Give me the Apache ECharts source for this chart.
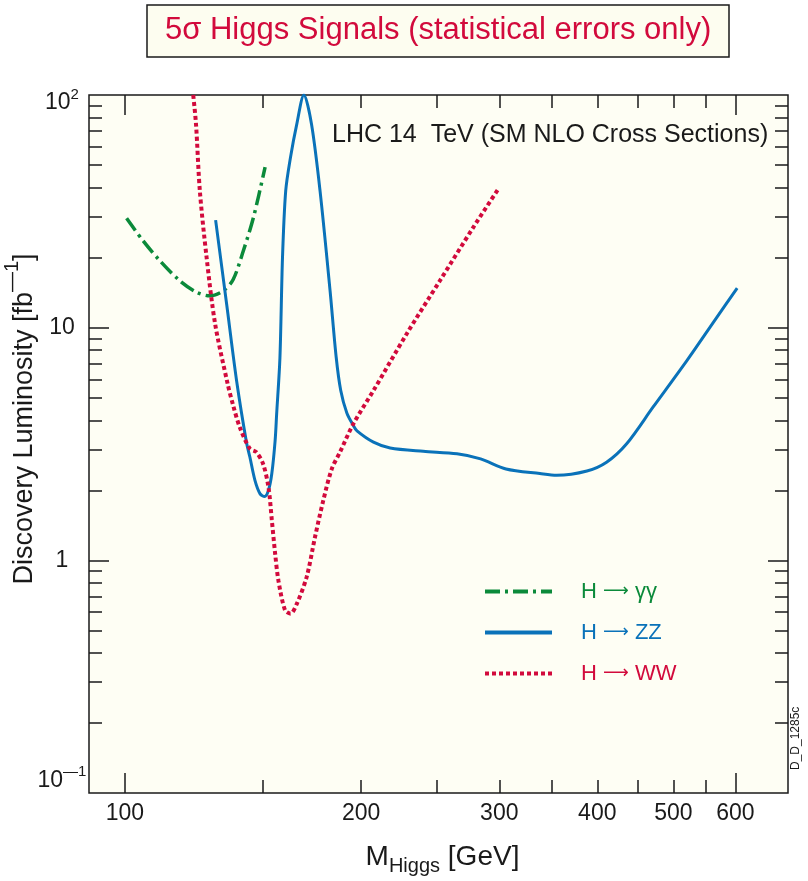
<!DOCTYPE html>
<html>
<head>
<meta charset="utf-8">
<script src="https://cdn.jsdelivr.net/npm/echarts@6/dist/echarts.min.js"></script>
<style>
  html, body { margin: 0; padding: 0; background: #fff; }
  #chart { width: 808px; height: 881px; }
</style>
</head>
<body>
<div id="chart"></div>
<script>
// H -> gamma gamma
const ggMass = [100.5, 105.5, 110.8, 117.5, 123.4, 128.3, 133.5, 137.4, 141.5, 145.8, 150.9]
const ggLumi = [29.5, 23.6, 19.4, 15.9, 14.2, 13.7, 14.4, 16.1, 21.3, 29.7, 49]

// H -> ZZ
const zzMass = [130.5, 134.8, 138.8, 142.9, 144.3, 146.5, 148.7, 150.7, 152.4, 153.9, 155.4, 156.1, 157.6,
  158.8, 160.3, 162.5, 165.6, 169.1, 172.9, 177.3, 182.6, 185.9, 188.4, 191.8, 195.5, 197.6, 207.4, 217.8,
  240, 265, 284, 306, 338, 355, 388, 411, 436, 471, 520, 564, 603]
const zzLumi = [29, 12.6, 5.9, 3.2, 2.78, 2.2, 1.93, 1.88, 2.0, 2.36, 3.27, 4.26, 7.4,
  20, 38.7, 53.5, 75, 100, 75, 38.7, 14.4, 7.46, 5.37, 4.3, 3.8, 3.6, 3.22, 3.04,
  2.94, 2.87, 2.73, 2.47, 2.36, 2.32, 2.42, 2.64, 3.17, 4.55, 7.2, 10.7, 14.8]

// H -> WW
const wwMass = [122.2, 123.2, 124.6, 127.1, 130.3, 135.2, 137.4, 140.1, 144.3, 147, 150, 152.4, 153.9, 155.4,
  156.9, 160, 162.6, 165.6, 170.5, 174.7, 179, 183.5, 188, 195.5, 207.4, 228.6, 252, 278, 298.5]
const wwLumi = [100, 75, 38.7, 20, 10.4, 5.73, 4.63, 3.73, 3.02, 2.92, 2.6, 2.06, 1.49, 1.07,
  0.82, 0.61, 0.59, 0.65, 0.85, 1.26, 1.81, 2.47, 2.92, 3.86, 5.37, 9.4, 15.9, 27, 39]

const seriesNames = ['H \u2192 \u03b3\u03b3', 'H \u2192 ZZ', 'H \u2192 WW']

// axis ticks / labels
const xLabelValues = [100, 200, 300, 400, 500, 600]
const xMinorTicks = [150, 200, 250, 300, 350, 400, 450, 500, 550]
const xMajorTicks = [100, 600]
const yLabelValues = [0.1, 1, 10, 100]
const yLabelText = ['{bs|\u20141}', '{n|1}', '{n|10}', '{tn|10}{ts|2}']
const yMinorTicks = [0.2, 0.3, 0.4, 0.5, 0.6, 0.7, 0.8, 0.9, 2, 3, 4, 5, 6, 7, 8, 9, 20, 30, 40, 50, 60, 70, 80, 90]
const yMajorTicks = [1, 10]

const FONT = 'Liberation Sans'
const INK = '#1a1a1a'
const RED = '#d20a3c'
const BLUE = '#0a72b9'
const GREEN = '#0b8a3a'

function pairs (xs, ys) {
  return xs.map((x, i) => [x, ys[i]])
}

function xAxisOf (position, ticks, len, withLabels) {
  return {
    type: 'log',
    position: position,
    min: 90,
    max: 700,
    axisLine: { show: false },
    splitLine: { show: false },
    axisTick: {
      inside: true,
      length: len,
      customValues: ticks,
      lineStyle: { color: INK, width: 1.5 }
    },
    axisLabel: withLabels ? {
      show: true,
      customValues: xLabelValues,
      formatter: v => String(Math.round(v)),
      fontFamily: FONT,
      fontSize: 23,
      color: INK,
      margin: 9
    } : { show: false }
  }
}

function yAxisOf (position, ticks, len, withLabels) {
  return {
    type: 'log',
    position: position,
    min: 0.1,
    max: 100,
    axisLine: { show: false },
    splitLine: { show: false },
    axisTick: {
      inside: true,
      length: len,
      customValues: ticks,
      lineStyle: { color: INK, width: 1.5 }
    },
    axisLabel: withLabels ? {
      show: true,
      customValues: yLabelValues,
      formatter: v => {
        const i = Math.round(Math.log10(v)) + 1
        return i === 0 ? '{bn|10}' + yLabelText[0] : yLabelText[i]
      },
      align: 'center',
      margin: 27,
      fontFamily: FONT,
      color: INK,
      rich: {
        n: { fontSize: 23, fontFamily: FONT, color: INK },
        tn: { fontSize: 23, fontFamily: FONT, color: INK, verticalAlign: 'top', padding: [16, 0, 0, 0] },
        ts: { fontSize: 15, fontFamily: FONT, color: INK, verticalAlign: 'top', padding: [12, 0, 0, 0] },
        bn: { fontSize: 23, fontFamily: FONT, color: INK, verticalAlign: 'top', padding: [5, 0, 29, 0] },
        bs: { fontSize: 15, fontFamily: FONT, color: INK, verticalAlign: 'top', padding: [0, 0, 0, 0] }
      }
    } : { show: false }
  }
}

const chart = echarts.init(document.getElementById('chart'))

const xAxes = [
  xAxisOf('bottom', xMinorTicks, 13, true),
  xAxisOf('bottom', xMajorTicks, 20, false),
  xAxisOf('top', xMinorTicks, 13, false),
  xAxisOf('top', xMajorTicks, 20, false)
]
xAxes[1].name = '{m|M}{s|Higgs}{m| [GeV]}'
xAxes[1].nameLocation = 'middle'
xAxes[1].nameGap = 50
xAxes[1].nameTextStyle = {
  padding: [0, 0, 0, 8],
  rich: {
    m: { fontSize: 28, fontFamily: FONT, color: INK, verticalAlign: 'top' },
    s: { fontSize: 20, fontFamily: FONT, color: INK, verticalAlign: 'top', padding: [13, 0, 0, 0] }
  }
}

const yAxes = [
  yAxisOf('left', yMinorTicks, 13, true),
  yAxisOf('left', yMajorTicks, 20, false),
  yAxisOf('right', yMinorTicks, 13, false),
  yAxisOf('right', yMajorTicks, 20, false)
]
yAxes[1].name = '{m|Discovery Luminosity [fb}{s|\u20141}{m|]}'
yAxes[1].nameLocation = 'middle'
yAxes[1].nameGap = 51
yAxes[1].nameTextStyle = {
  padding: [0, 0, 0, 50],
  rich: {
    m: { fontSize: 27, fontFamily: FONT, color: INK, verticalAlign: 'top', padding: [9, 0, 0, 0] },
    s: { fontSize: 20, fontFamily: FONT, color: INK, verticalAlign: 'top' }
  }
}

const option = {
  backgroundColor: '#ffffff',
  animation: false,
  title: {
    text: '5\u03c3 Higgs Signals (statistical errors only)',
    left: 147,
    top: 5,
    padding: [10, 18, 11, 18],
    backgroundColor: '#fdfdf0',
    borderColor: INK,
    borderWidth: 1.5,
    textStyle: { fontFamily: FONT, fontSize: 31, fontWeight: 'normal', color: RED }
  },
  grid: {
    left: 89,
    right: 20,
    top: 95,
    bottom: 88,
    show: true,
    backgroundColor: '#fefef4',
    borderColor: INK,
    borderWidth: 1.5,
    containLabel: false,
    outerBoundsMode: 'none'
  },
  legend: {
    orient: 'vertical',
    left: 478,
    top: 574,
    itemWidth: 67,
    itemHeight: 14,
    itemGap: 16,
    itemStyle: { opacity: 0 },
    lineStyle: { width: 4 },
    formatter: name => name.replace('\u2192', '{a|\u27f6}'),
    data: [
      { name: seriesNames[0], textStyle: { color: GREEN } },
      { name: seriesNames[1], textStyle: { color: BLUE } },
      { name: seriesNames[2], textStyle: { color: RED } }
    ],
    textStyle: {
      fontFamily: FONT,
      fontSize: 22,
      lineHeight: 25,
      padding: [0, 0, 0, 24],
      rich: {
        a: { fontFamily: 'DejaVu Sans', fontSize: 18, lineHeight: 25 }
      }
    }
  },
  xAxis: xAxes,
  yAxis: yAxes,
  graphic: [
    {
      type: 'text',
      left: 332,
      top: 123,
      style: { text: 'LHC 14  TeV (SM NLO Cross Sections)', font: '25px "Liberation Sans"', fill: INK }
    },
    {
      type: 'text',
      x: 790,
      y: 770,
      rotation: Math.PI / 2,
      style: { text: 'D_D_1285c', font: '12px "Liberation Sans"', fill: INK }
    }
  ],
  series: [
    {
      name: seriesNames[0],
      type: 'line',
      data: pairs(ggMass, ggLumi),
      symbol: 'none',
      smooth: 0.3,
      color: GREEN,
      lineStyle: { color: GREEN, width: 3.5, type: [15, 5, 3, 5] }
    },
    {
      name: seriesNames[1],
      type: 'line',
      data: pairs(zzMass, zzLumi),
      symbol: 'none',
      smooth: 0.3,
      color: BLUE,
      lineStyle: { color: BLUE, width: 3 }
    },
    {
      name: seriesNames[2],
      type: 'line',
      data: pairs(wwMass, wwLumi),
      symbol: 'none',
      smooth: 0.3,
      color: RED,
      lineStyle: { color: RED, width: 4, type: [4, 3] }
    }
  ]
}

chart.setOption(option)
</script>
</body>
</html>
